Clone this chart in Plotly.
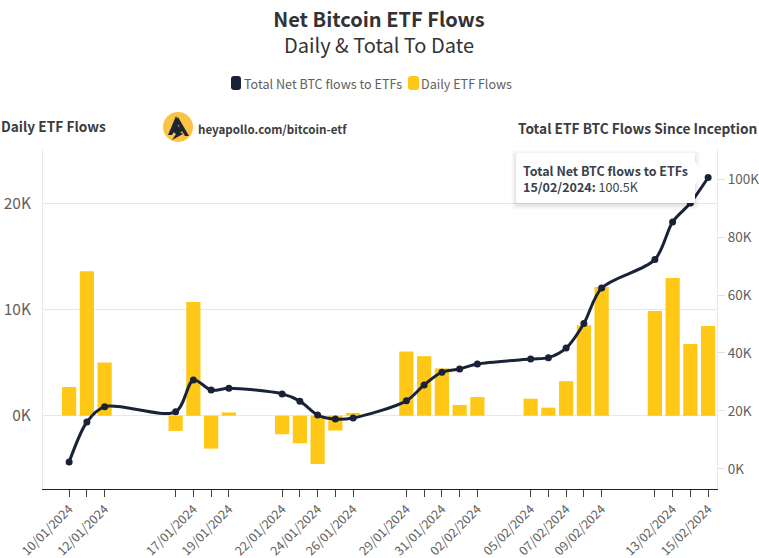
import plotly.graph_objects as go

FONT = "Noto Sans CJK SC"
W, H = 759, 558
L, R, T, B = 43, 717, 150, 489

dates = ["2024-01-10","2024-01-11","2024-01-12","2024-01-16","2024-01-17","2024-01-18","2024-01-19",
         "2024-01-22","2024-01-23","2024-01-24","2024-01-25","2024-01-26",
         "2024-01-29","2024-01-30","2024-01-31","2024-02-01","2024-02-02",
         "2024-02-05","2024-02-06","2024-02-07","2024-02-08","2024-02-09",
         "2024-02-12","2024-02-13","2024-02-14","2024-02-15"]
tick_labels = ["10/01/2024","","12/01/2024","","17/01/2024","","19/01/2024",
               "22/01/2024","","24/01/2024","","26/01/2024",
               "29/01/2024","","31/01/2024","","02/02/2024",
               "05/02/2024","","07/02/2024","","09/02/2024",
               "","13/02/2024","","15/02/2024"]
daily_flows = [2700,13600,5000,-1430,10700,-3100,300,
               -1750,-2600,-4550,-1400,250,
               6050,5600,4450,1000,1750,
               1600,750,3250,8500,12100,
               9850,12950,6750,8450]
total_flows = [2400,16200,21500,19700,30700,27200,27800,
               25900,23400,18600,17200,17600,
               23500,29000,33400,34500,36200,
               37900,38400,41700,50200,62400,
               72200,85200,91700,100500]
left_ticks = [0,10000,20000]
left_labels = ["0K","10K","20K"]
right_ticks = [0,20000,40000,60000,80000,100000]
right_labels = ["0K","20K","40K","60K","80K","100K"]

NAVY = "#1a2238"
YELLOW = "#ffc716"
GREY = "#606060"
DARK = "#333333"

def px(x): return (x - L) / (R - L)
def py(y): return (B - y) / (B - T)
def path(points):
    return "M" + " L".join(f"{px(x):.5f},{py(y):.5f}" for x, y in points) + " Z"
def rounded(x0, y0, x1, y1, r):
    return (f"M{px(x0+r):.5f},{py(y0):.5f} L{px(x1-r):.5f},{py(y0):.5f} Q{px(x1):.5f},{py(y0):.5f} {px(x1):.5f},{py(y0+r):.5f} "
            f"L{px(x1):.5f},{py(y1-r):.5f} Q{px(x1):.5f},{py(y1):.5f} {px(x1-r):.5f},{py(y1):.5f} "
            f"L{px(x0+r):.5f},{py(y1):.5f} Q{px(x0):.5f},{py(y1):.5f} {px(x0):.5f},{py(y1-r):.5f} "
            f"L{px(x0):.5f},{py(y0+r):.5f} Q{px(x0):.5f},{py(y0):.5f} {px(x0+r):.5f},{py(y0):.5f} Z")

fig = go.Figure()
fig.add_trace(go.Bar(x=dates, y=daily_flows, name="Daily ETF Flows", width=0.8*86400000,
                     marker=dict(color=YELLOW, line=dict(width=0)), yaxis="y", showlegend=False))
fig.add_trace(go.Scatter(x=dates, y=total_flows, name="Total Net BTC flows to ETFs", mode="lines+markers",
                         line=dict(color=NAVY, width=3, shape="spline", smoothing=0.85),
                         marker=dict(color=NAVY, size=7), yaxis="y2", showlegend=False))

shapes = []
def sh(p, fill, opacity=1):
    shapes.append(dict(type="path", xref="paper", yref="paper", path=p, fillcolor=fill,
                       line=dict(width=0), opacity=opacity, layer="above"))

# legend swatches
sh(rounded(231, 76, 241, 90, 3), NAVY)
sh(rounded(408, 76, 419, 90, 3), YELLOW)

# logo
shapes.append(dict(type="circle", xref="paper", yref="paper", x0=px(163), x1=px(193), y0=py(142), y1=py(112),
                   fillcolor="#fcc243", line=dict(width=0), layer="above"))
sh(path([(176,116),(168,135),(172,135),(179,123)]), "#1f2433")
sh(path([(178,117),(189,136),(185,136),(176,121)]), "#1f2433")
sh(path([(177,125),(184,131),(180,132),(183,134),(172,140),(176,134),(173,132)]), "#1f2433")

# tooltip: soft shadow, box and pointer
for g, o in [(5,0.012),(4,0.015),(3,0.02),(2,0.025),(1,0.03)]:
    sh(rounded(516-g, 153-g+2, 695+g, 203+g+2, 3), "#000000", o)
sh(rounded(516, 153, 695, 203, 2), "#ffffff")
sh(path([(694,160),(703,175),(694,186)]), "#ffffff")

def note(x, y, text, size, color, anchor="left"):
    return dict(xref="paper", yref="paper", x=px(x), y=py(y), text=text, showarrow=False,
                xanchor=anchor, yanchor="middle", align=anchor, borderpad=0, borderwidth=0,
                font=dict(family=FONT, size=size, color=color))

annotations = [
    note(244, 83, "Total Net BTC flows to ETFs", 12.6, GREY),
    note(421, 83, "Daily ETF Flows", 12.6, GREY),
    note(1, 126, "<b>Daily ETF Flows</b>", 13.7, "#3d3d3d"),
    note(757, 128, "<b>Total ETF BTC Flows Since Inception</b>", 13.7, "#3d3d3d", "right"),
    note(198, 129, "<b>heyapollo.com/bitcoin-etf</b>", 11.6, "#3d3d3d"),
    note(523, 178.5, "<b>Total Net BTC flows to ETFs</b><br><b>15/02/2024:</b> 100.5K", 12.5, "#3a3f4b"),
]

fig.update_layout(
    width=W, height=H, autosize=False, paper_bgcolor="white", plot_bgcolor="white",
    margin=dict(l=L, r=W-R, t=T, b=H-B, pad=0),
    font=dict(family=FONT),
    bargap=0.2, showlegend=False, hovermode=False,
    title=dict(text="<b>Net Bitcoin ETF Flows</b><br>Daily & Total To Date",
               x=379/W, xanchor="center", y=1-27/H, yanchor="middle", automargin=False,
               font=dict(family=FONT, size=20, color=DARK)),
    xaxis=dict(type="date", range=["2024-01-08 12:40","2024-02-15 12:00"], automargin=False,
               tickmode="array", tickvals=dates, ticktext=tick_labels, tickangle=-45,
               ticks="outside", ticklen=7, tickcolor="#444444", tickwidth=1,
               tickfont=dict(family=FONT, size=12.5, color=GREY),
               showline=True, linecolor="#222222", linewidth=1, showgrid=False, zeroline=False),
    yaxis=dict(range=[-6900,25000], tickmode="array", tickvals=left_ticks, ticktext=left_labels, automargin=False,
               tickfont=dict(family=FONT, size=15.5, color=GREY), ticks="outside", ticklen=8, tickcolor="rgba(0,0,0,0)",
               showgrid=True, gridcolor="#e8e8e8", gridwidth=1, zeroline=False,
               showline=True, linecolor="#e8e8e8", linewidth=1),
    yaxis2=dict(range=[-6900,110000], overlaying="y", side="right", tickmode="array", automargin=False,
                tickvals=right_ticks, ticktext=right_labels,
                tickfont=dict(family=FONT, size=13.5, color=GREY),
                ticks="outside", ticklen=7, tickcolor="#e0e0e0", showgrid=False, zeroline=False,
                showline=True, linecolor="#e8e8e8", linewidth=1),
    shapes=shapes, annotations=annotations,
)
fig.write_html("out.html", config=dict(displayModeBar=False), post_script="document.body.style.margin='0';")
